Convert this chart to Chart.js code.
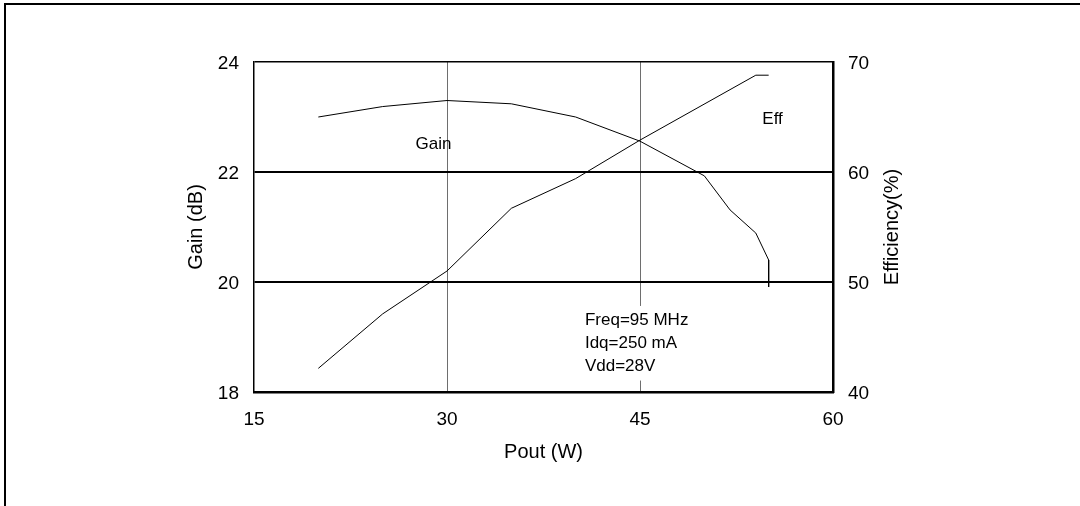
<!DOCTYPE html>
<html>
<head>
<meta charset="utf-8">
<script src="https://cdn.jsdelivr.net/npm/chart.js@4.4.1/dist/chart.umd.min.js"></script>
<style>
  body { margin: 0; background: #fff; }
  #wrap { position: relative; width: 1080px; height: 506px; overflow: hidden; }
  #frame { position: absolute; left: 4px; top: 3px; width: 1074px; height: 600px;
           border-top: 2px solid #000; border-left: 2px solid #000; }
  #chart { position: absolute; left: 0; top: 0; }
</style>
</head>
<body>
<div id="wrap">
  <div id="frame"></div>
  <canvas id="chart" width="1080" height="506"></canvas>
</div>
<script>
// Pout (W) vs gain (dB)
const gainPout = [20, 25, 30, 35, 40, 45, 50, 52, 54, 55, 55];
const gainDb   = [23.0, 23.19, 23.3, 23.24, 23.0, 22.56, 21.93, 21.31, 20.89, 20.4, 19.91];

// Pout (W) vs drain efficiency (%)
const effPout = [20, 25, 30, 35, 40, 45, 54, 55];
const effPct  = [42.15, 47.1, 51.0, 56.7, 59.4, 62.9, 68.8, 68.8];

const xTicks = [15, 30, 45, 60];
const gainTicks = [18, 20, 22, 24];
const effTicks = [40, 50, 60, 70];

const conditions = ['Freq=95 MHz', 'Idq=250 mA', 'Vdd=28V'];

const FONT = '"Liberation Sans", Arial, Helvetica, sans-serif';
Chart.defaults.color = '#000';
Chart.defaults.font.family = FONT;

const toPts = (xs, ys) => xs.map((x, i) => ({ x: x, y: ys[i] }));

// labels inside the plot + the rotated right-hand title
const textPlugin = {
  id: 'texts',
  afterDatasetsDraw(chart) {
    const { ctx, chartArea, scales } = chart;
    const x = scales.x, y = scales.y;
    ctx.save();
    ctx.fillStyle = '#000';
    ctx.font = '17px ' + FONT;
    ctx.textBaseline = 'middle';
    ctx.textAlign = 'center';
    ctx.fillText('Gain', x.getPixelForValue(28.95), y.getPixelForValue(22.51));
    ctx.fillText('Eff', x.getPixelForValue(55.3), y.getPixelForValue(22.96));

    // conditions block sits on a white box (it cuts the 45 W grid line)
    const bx = x.getPixelForValue(40.72);
    const by = y.getPixelForValue(19.31);
    const step = 23.3;
    ctx.textAlign = 'left';
    let w = 0;
    conditions.forEach(t => { w = Math.max(w, ctx.measureText(t).width); });
    ctx.fillStyle = '#fff';
    ctx.fillRect(bx - 2, by - 14, w + 4, step * (conditions.length - 1) + 28);
    ctx.fillStyle = '#000';
    conditions.forEach((t, i) => ctx.fillText(t, bx, by + i * step));

    // right axis title reads bottom-to-top
    ctx.font = '20px ' + FONT;
    ctx.textAlign = 'center';
    ctx.translate(chartArea.right + 59, (chartArea.top + chartArea.bottom) / 2);
    ctx.rotate(-Math.PI / 2);
    ctx.fillText('Efficiency(%)', 0, 0);
    ctx.restore();
  }
};

new Chart(document.getElementById('chart'), {
  type: 'line',
  data: {
    datasets: [
      {
        label: 'Gain',
        data: toPts(gainPout, gainDb),
        yAxisID: 'y',
        borderColor: '#000',
        borderWidth: 1,
        pointRadius: 0,
        tension: 0
      },
      {
        label: 'Eff',
        data: toPts(effPout, effPct),
        yAxisID: 'y1',
        borderColor: '#000',
        borderWidth: 1,
        pointRadius: 0,
        tension: 0
      }
    ]
  },
  options: {
    responsive: false,
    animation: false,
    layout: { padding: { left: 180, right: 0, top: 62, bottom: 38 } },
    plugins: { legend: { display: false }, tooltip: { enabled: false } },
    scales: {
      x: {
        type: 'linear',
        min: 15,
        max: 60,
        afterBuildTicks: s => { s.ticks = xTicks.map(v => ({ value: v })); },
        afterFit: s => { s.height = 76; },
        ticks: { padding: 16, font: { size: 19 } },
        grid: {
          drawTicks: false,
          color: c => (c.tick && (c.tick.value === 15 || c.tick.value === 60)) ? 'rgba(0,0,0,0)' : '#6e6e6e',
          lineWidth: 1
        },
        border: { color: '#000', width: 2.5 },
        title: { display: true, text: 'Pout (W)', font: { size: 20 } }
      },
      y: {
        position: 'left',
        min: 18,
        max: 24,
        afterBuildTicks: s => { s.ticks = gainTicks.map(v => ({ value: v })); },
        afterFit: s => { s.width = 74; },
        ticks: { padding: 15, labelOffset: 2, font: { size: 19 } },
        grid: {
          drawTicks: false,
          color: '#000',
          lineWidth: c => (c.tick && c.tick.value === 24) ? 1.5 : 2
        },
        border: { color: '#000', width: 1.5 },
        title: { display: true, text: 'Gain (dB)', font: { size: 20 } }
      },
      y1: {
        position: 'right',
        min: 40,
        max: 70,
        afterBuildTicks: s => { s.ticks = effTicks.map(v => ({ value: v })); },
        afterFit: s => { s.width = 247; },
        ticks: { padding: 15, labelOffset: 2, font: { size: 19 } },
        grid: { display: false, drawTicks: false },
        border: { color: '#000', width: 2.5 }
      }
    }
  },
  plugins: [textPlugin]
});
</script>
</body>
</html>
